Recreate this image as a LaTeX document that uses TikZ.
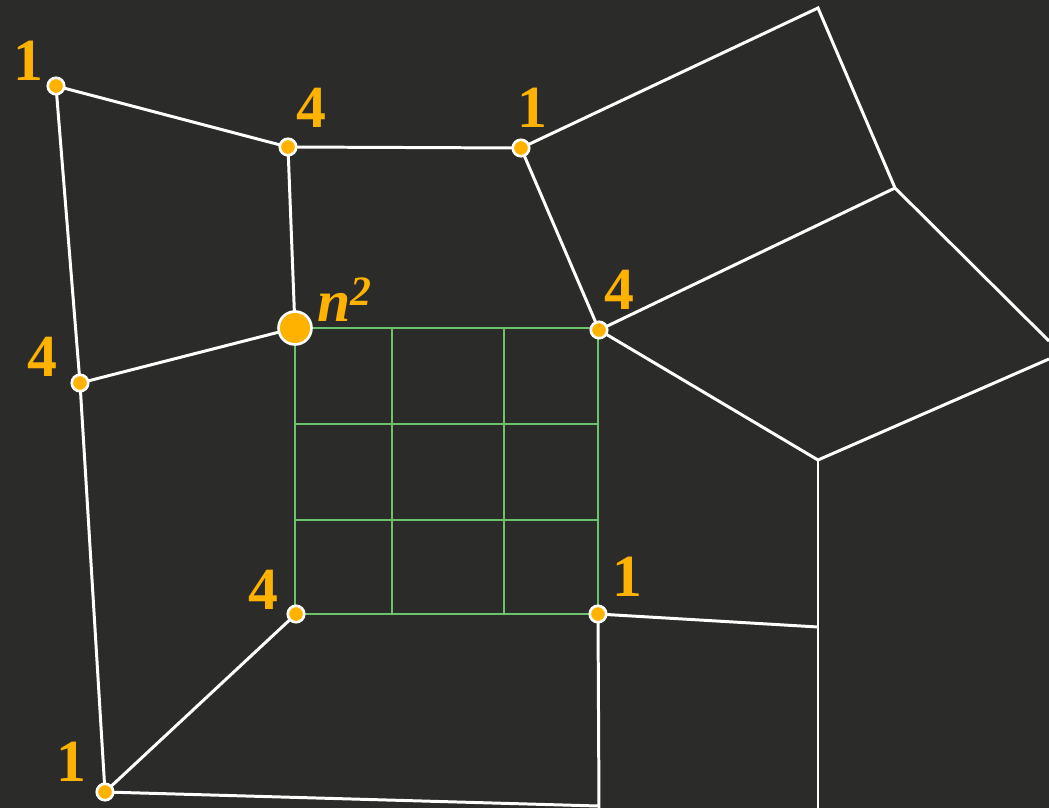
\documentclass[tikz,border=0pt]{standalone}
\usepackage{fontspec}
\setmainfont{Liberation Serif}
\definecolor{bgdark}{HTML}{2B2B2A}
\definecolor{vtxorange}{HTML}{FFB300}
\definecolor{gridgreen}{HTML}{6CC36C}
\tikzset{
  edge/.style={white, line width=1.7pt},
  cell/.style={gridgreen, line width=1.6pt},
  vtx/.style={circle, fill=vtxorange, draw=white, line width=1.5pt, inner sep=0pt, minimum size=0.33cm},
  bigvtx/.style={vtx, minimum size=0.66cm},
  val/.style={text=vtxorange, font=\bfseries\fontsize{34}{34}\selectfont, inner sep=0pt}
}
\begin{document}
\begin{tikzpicture}[x=0.02cm, y=-0.02cm]
            % Background
            \fill[bgdark] (0,0) rectangle (1049,808);
            \useasboundingbox (0,0) rectangle (1049,808);

            % Mesh points
            \coordinate (a) at (56,86);
            \coordinate (b) at (288,147);
            \coordinate (c) at (521,148);
            \coordinate (d) at (818,8);
            \coordinate (e) at (895,188);
            \coordinate (f) at (1049,341);
            \coordinate (g) at (599,330);
            \coordinate (h) at (818,460);
            \coordinate (i) at (1049,359);
            \coordinate (n) at (295,328);
            \coordinate (l) at (80,383);
            \coordinate (m) at (296,614);
            \coordinate (p) at (598,614);
            \coordinate (q) at (818,627);
            \coordinate (r) at (105,792);
            \coordinate (s) at (599,808);
            \coordinate (t) at (818,808);
            \coordinate (u) at (598,806);

            % Refined cell
            \draw[cell] (n) rectangle (p);
            \draw[cell] (392,328) -- (392,614);
            \draw[cell] (504,328) -- (504,614);
            \draw[cell] (295,424) -- (599,424);
            \draw[cell] (295,520) -- (599,520);

            % Coarse mesh edges
            \draw[edge] (l) -- (a) -- (b) -- (c) -- (d) -- (e) -- (f);
            \draw[edge] (c) -- (g) -- (e);
            \draw[edge] (g) -- (h) -- (i);
            \draw[edge] (h) -- (q) -- (t);
            \draw[edge] (p) -- (q);
            \draw[edge] (p) -- (s);
            \draw[edge] (b) -- (n) -- (l) -- (r) -- (m);
            \draw[edge] (r) -- (u);

            % Vertices
            \node[vtx] (va) at (a) {};
            \node[vtx] (vb) at (b) {};
            \node[vtx] (vc) at (c) {};
            \node[vtx] (vg) at (g) {};
            \node[vtx] (vl) at (l) {};
            \node[vtx] (vm) at (m) {};
            \node[vtx] (vp) at (p) {};
            \node[vtx] (vr) at (r) {};
            \node[bigvtx] (vn) at (n) {};

            % Valences
            \node[val] (la) at (28,61) {1};
            \node[val] (lb) at (311,108) {4};
            \node[val] (lc) at (532,108) {1};
            \node[val] (lg) at (619,290) {4};
            \node[val] (ll) at (42,357) {4};
            \node[val] (lm) at (263,590) {4};
            \node[val] (lp) at (627,577) {1};
            \node[val] (lr) at (71,762) {1};
            \node[val, font=\bfseries\itshape\fontsize{34}{34}\selectfont] (ln) at (345,300) {n\textsuperscript{2}};
        \end{tikzpicture}
\end{document}
